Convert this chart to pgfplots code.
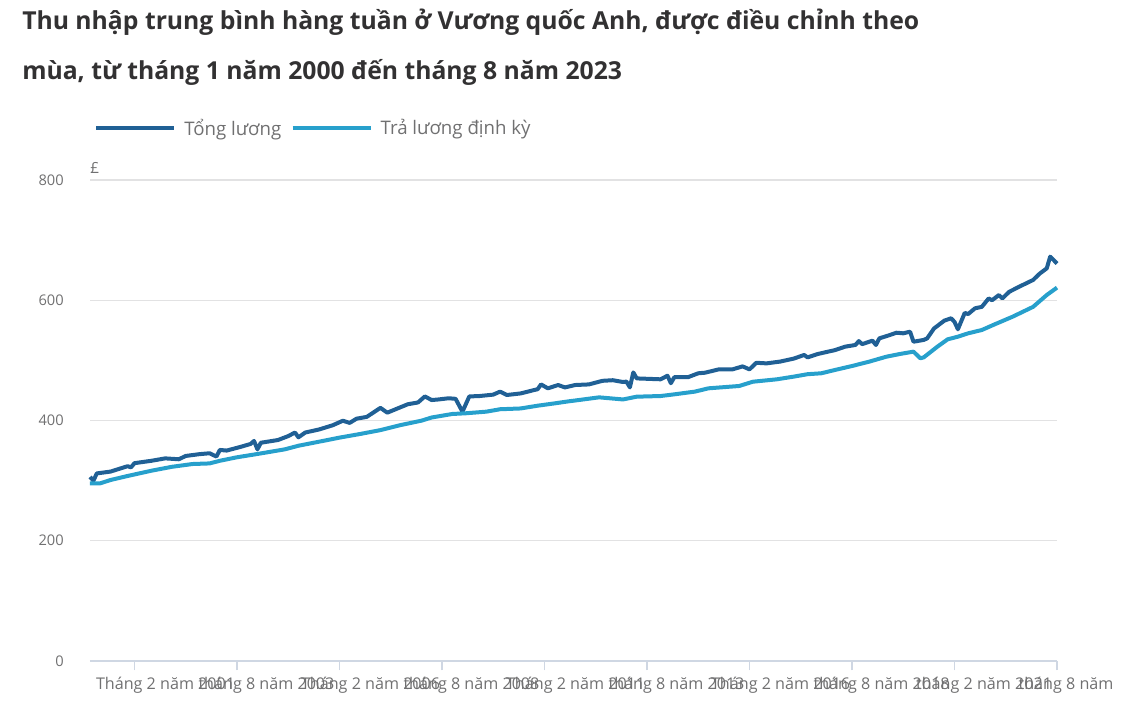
\documentclass[border=0pt]{standalone}
\usepackage{fontspec}
\setmainfont{Open Sans}
\usepackage{pgfplots}
\usepackage{pgfplotstable}
\pgfplotsset{compat=1.18}
\definecolor{darkline}{HTML}{206095}
\definecolor{lightline}{HTML}{27A0CC}
\definecolor{titlec}{HTML}{323132}
\definecolor{labelc}{HTML}{707071}
\definecolor{gridc}{HTML}{E2E2E3}
\definecolor{axisc}{HTML}{CFD7E3}

\pgfplotstableread{
m v
0 306
1 300
2 312
6 315
11 324
12 322
13 329
18 333
22 337
26 335.5
28 341
32 344
35 345.5
37 340
38 351
40 350
44 356
47 361
48 366
49 352
50 363
55 367.5
58 374
60 380
61 372
63 380
67 385
71 392
74 399.6
76 396
78 403
81 406
85 421
87 413
90 420
93 427
96 430
98 440
100 434
102 435
105 437
107 436
109 414.6
111 440
114 440.7
118 443
120 448
122 442.4
126 445
130 450.7
131 452
132 460
134 453.5
137 459
139 455
142 459
146 460
150 466
153 467
156 464
157 464.7
158 455
159 480
160 470
167 468.5
169 474.5
170 462
171 472
175 472
178 478.5
180 479.5
184 485
188 485
191 490
193 485
195 496
198 495
202 498
206 503
209 509
210 505
213 510.6
216 514.5
218 517
221 522.8
224 525.6
225 532
226 527
229 532.8
230 525.6
231 536.6
234 542
236 546
238 545
240 547.7
241 531
244 534
245 536.6
247 553
250 566
252 570
253 564
254 551.7
256 579
257 577
259 586.6
261 589
263 603
264 600
266 608.7
267 603
269 614
272 622.7
276 633.7
278 644.6
280 653
281 672.5
282 667
283 661
}\totalpay

\pgfplotstableread{
m v
0 295.5
3 295.5
6 301
11 307.7
18 316.5
24 323
30 327.6
35 328.6
38 333
43 338.8
49 344.3
57 352
61 358
67 364.7
71 369.2
73 371.5
79 377.5
85 384
91 392.5
97 399.7
100 405
106 410.8
110 412
116 414.7
120 418.7
126 420
131 424.6
136 428.5
140 431.8
143 434
149 438.5
156 435
160 439.6
167 440.7
171 443.5
177 448
181 453.5
190 457.4
194 464.5
201 468.5
206 473
210 477
214 478.5
218 484
223 490.6
228 497.8
233 506
237 510.6
241 514.5
243 503.5
244 505
248 522.8
251 535
254 539.4
257 545
261 550.5
265 560.5
270 572.6
276 589
280 608.7
283 621
}\regularpay

\begin{document}
\begin{tikzpicture}
\path[use as bounding box] (0,0) rectangle (852pt,534pt);
\node[anchor=base west, inner sep=0pt, text=titlec, font=\fontsize{18.55}{22}\selectfont\bfseries] at (16.5pt,511.5pt) {Thu nhập trung bình hàng tuần ở Vương quốc Anh, được điều chỉnh theo};
\node[anchor=base west, inner sep=0pt, text=titlec, font=\fontsize{18.55}{22}\selectfont\bfseries] at (16.5pt,474pt) {mùa, từ tháng 1 năm 2000 đến tháng 8 năm 2023};
\begin{scope}
\clip (0,0) rectangle (836pt,534pt);
\begin{axis}[
  at={(67.5pt,38.25pt)}, anchor=south west,
  scale only axis, width=725.25pt, height=360.75pt,
  xmin=0, xmax=283, ymin=0, ymax=800,
  clip=false,
  axis x line*=bottom, axis y line*=left,
  x axis line style={draw=axisc, line width=0.9pt, -},
  y axis line style={draw=none},
  ytick={0,200,400,600,800},
  ymajorgrids, grid style={draw=gridc, line width=0.9pt},
  xtick={13,43,73,103,133,163,193,223,253,283},
  xticklabels={Tháng 2 năm 2001, tháng 8 năm 2003, Tháng 2 năm 2006, tháng 8 năm 2008, Tháng 2 năm 2011, tháng 8 năm 2013, Tháng 2 năm 2016, tháng 8 năm 2018, tháng 2 năm 2021, tháng 8 năm 2023},
  tick align=outside,
  xtick style={draw=axisc, line width=0.9pt},
  ytick style={draw=none},
  major tick length=7pt,
  /pgf/number format/assume math mode=true,
  tick label style={font=\fontsize{11}{13}\selectfont, text=labelc},
  xticklabel style={font=\fontsize{12.1}{14}\selectfont, anchor=north west, xshift=-29pt, yshift=-5pt, inner sep=0pt},
  yticklabel style={anchor=east, inner sep=0pt, xshift=-12.5pt},
  legend columns=2,
  legend style={at={(axis description cs:0,1.108)}, anchor=west, xshift=3pt, draw=none, fill=none, inner sep=0pt,
    font=\fontsize{14}{16}\selectfont, text=labelc,
    /tikz/every even column/.append style={column sep=5pt}},
  legend image code/.code={\draw[#1, line width=3pt] (0pt,0pt) -- (58.5pt,0pt); \path (62.5pt,0pt);},
]
\addplot[darkline, line width=3pt, line join=round] table[x=m, y=v] {\totalpay};
\addlegendentry{Tổng lương}
\addplot[lightline, line width=3pt, line join=round] table[x=m, y=v] {\regularpay};
\addlegendentry{Trả lương định kỳ}
\node[anchor=south west, inner sep=0pt, text=labelc, font=\fontsize{11.5}{13}\selectfont] at (axis description cs:0,1.012) {£};
\end{axis}
\end{scope}
\end{tikzpicture}
\end{document}
